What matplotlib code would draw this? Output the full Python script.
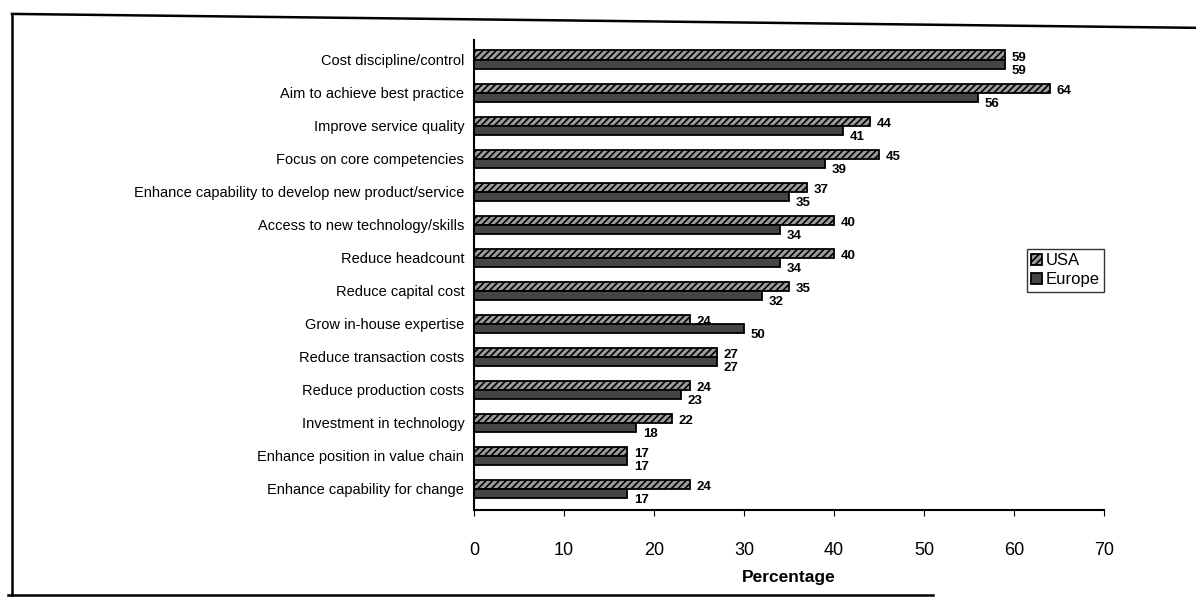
import numpy as np
import matplotlib
matplotlib.use("Agg")
import matplotlib.pyplot as plt
from matplotlib.lines import Line2D

plt.rcParams['font.family'] = ['Liberation Sans', 'DejaVu Sans']
plt.rcParams['hatch.color'] = '#dcdcdc'
plt.rcParams['hatch.linewidth'] = 1.2

categories = [
    "Cost discipline/control",
    "Aim to achieve best practice",
    "Improve service quality",
    "Focus on core competencies",
    "Enhance capability to develop new product/service",
    "Access to new technology/skills",
    "Reduce headcount",
    "Reduce capital cost",
    "Grow in-house expertise",
    "Reduce transaction costs",
    "Reduce production costs",
    "Investment in technology",
    "Enhance position in value chain",
    "Enhance capability for change",
]
usa = [59, 64, 44, 45, 37, 40, 40, 35, 24, 27, 24, 22, 17, 24]
europe = [59, 56, 41, 39, 35, 34, 34, 32, 30, 27, 23, 18, 17, 17]
# printed labels as they appear on the original (one differs from its bar)
usa_labels = [str(v) for v in usa]
europe_labels = ["59", "56", "41", "39", "35", "34", "34", "32", "50", "27", "23", "18", "17", "17"]
xticks = [0, 10, 20, 30, 40, 50, 60, 70]

fig = plt.figure(figsize=(11.96, 6.05), dpi=100)
ax = fig.add_axes([0.3963, 0.157, 0.5267, 0.777])

y = np.arange(len(categories))
h = 0.28
ax.barh(y - h / 2, usa, height=h, color='#9c9c9c', edgecolor='black',
        linewidth=1.3, hatch='/////', label='USA')
ax.barh(y + h / 2, europe, height=h, color='#454545', edgecolor='black',
        linewidth=1.3, label='Europe')

for i in range(len(categories)):
    ax.annotate(usa_labels[i], (usa[i], y[i] - h / 2), xytext=(5, -2),
                textcoords='offset points', va='center', ha='left',
                fontsize=9.5, fontweight='bold')
    ax.annotate(europe_labels[i], (europe[i], y[i] + h / 2), xytext=(5, -5),
                textcoords='offset points', va='center', ha='left',
                fontsize=9.5, fontweight='bold')

ax.set_yticks(y)
ax.set_yticklabels(categories, fontsize=10.5)
ax.tick_params(axis='y', length=0, pad=7)
ax.set_ylim(len(categories) - 0.36, -0.6)

ax.set_xlim(0, 70)
ax.set_xticks(xticks)
ax.tick_params(axis='x', direction='out', length=4, pad=19, labelsize=13)
ax.set_xlabel("Percentage", fontsize=12.5, fontweight='bold', labelpad=8)

ax.spines['top'].set_visible(False)
ax.spines['right'].set_visible(False)
ax.spines['left'].set_linewidth(1.5)
ax.spines['bottom'].set_linewidth(1.5)

leg = ax.legend(loc='upper right', bbox_to_anchor=(1.0, 0.555), fontsize=12,
                frameon=True, fancybox=False, edgecolor='black',
                handlelength=0.7, handleheight=0.7, handletextpad=0.2,
                borderpad=0.25, labelspacing=0.25, borderaxespad=0)
leg.get_frame().set_linewidth(1.0)

# scanned page frame
fig.add_artist(Line2D([0.010, 0.010], [0.017, 0.977], color='black', linewidth=1.8))
fig.add_artist(Line2D([0.010, 1.0], [0.977, 0.954], color='black', linewidth=1.8))
fig.add_artist(Line2D([0.007, 0.78], [0.017, 0.017], color='black', linewidth=1.8))

fig.savefig("out.png", dpi=100)
